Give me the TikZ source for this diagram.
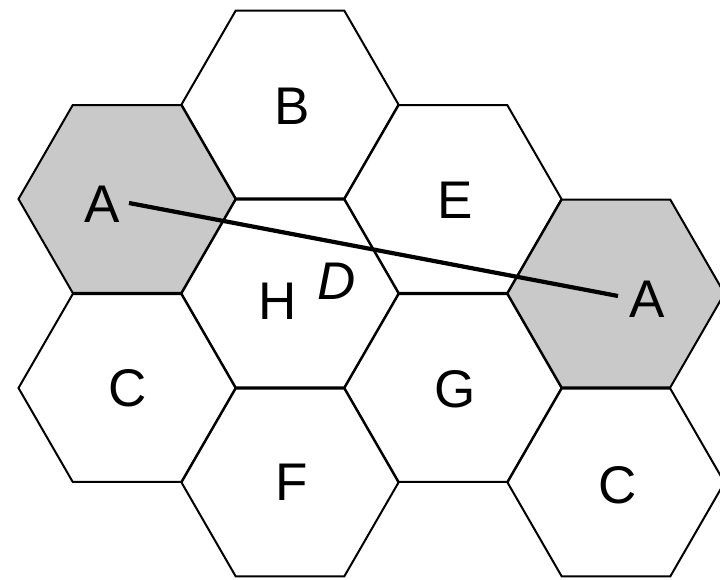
\documentclass[tikz,border=0pt]{standalone}
\usepackage{fontspec}
\setmainfont{Liberation Sans}
\usetikzlibrary{shapes.geometric}

\tikzset{
	cell/.style={regular polygon, regular polygon sides=6, minimum size=217pt, inner sep=0pt, outer sep=0pt, draw=black, line width=2pt, fill=white},
	reuse/.style={cell, fill=black!21},
	tag/.style={inner sep=0pt, font=\fontsize{53}{60}\selectfont}
}

\begin{document}
\begin{tikzpicture}[x=1pt, y=-1pt]
	\useasboundingbox (0,0) rectangle (720,580);
	
	\node[cell] (b) at (290, 104.5) {};
	\node[cell] (e) at (453, 199) {};
	\node[cell] (h) at (290, 293.5) {};
	\node[cell] (c1) at (127, 388) {};
	\node[cell] (g) at (453, 388) {};
	\node[cell] (f) at (290, 482.5) {};
	\node[cell] (c2) at (616, 482.5) {};
	\node[reuse] (a1) at (127, 199) {};
	\node[reuse] (a2) at (616, 293.5) {};
	
	\node[tag] (ta1) at (102, 204) {A};
	\node[tag] (tb) at (292, 106) {B};
	\node[tag] (te) at (455, 200) {E};
	\node[tag] (th) at (278, 301) {H};
	\node[tag] (tc1) at (128, 388) {C};
	\node[tag] (tg) at (455, 389) {G};
	\node[tag] (ta2) at (647, 299) {A};
	\node[tag] (tf) at (292, 482) {F};
	\node[tag] (tc2) at (618, 485) {C};
	\node[tag] (td) at (337, 281) {\itshape D};
	
	\coordinate (p) at (129, 203);
	\coordinate (q) at (618, 296);
	\draw[line width=4.2pt] (p) -- (q);
\end{tikzpicture}
\end{document}
